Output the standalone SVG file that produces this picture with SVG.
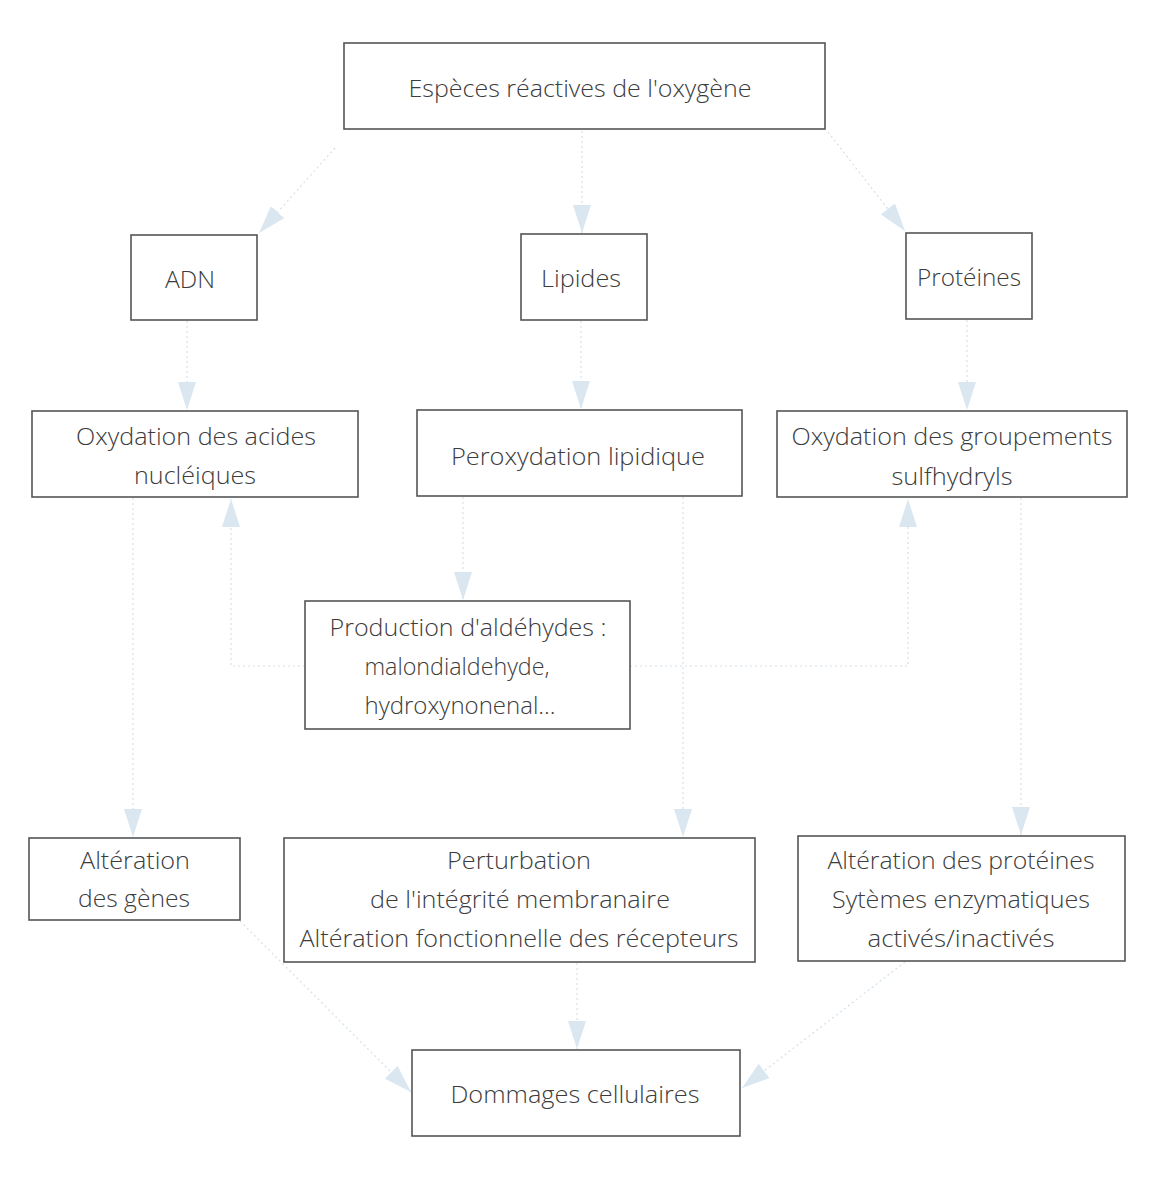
<svg xmlns="http://www.w3.org/2000/svg" width="1152" height="1178" viewBox="0 0 1152 1178">
<style>
.box{fill:#ffffff;stroke:#555555;stroke-width:1.6}
.t{font-family:"Open Sans","Noto Sans","Liberation Sans",sans-serif;font-weight:300;font-size:24px;fill:#3c3c3c;text-anchor:middle}
.c{fill:none;stroke:#d2e1ec;stroke-width:1.2;stroke-dasharray:2 3}
</style>
<defs>
<marker id="arr" markerUnits="userSpaceOnUse" markerWidth="28" markerHeight="18" viewBox="0 0 28 18" refX="28" refY="9" orient="auto">
<path d="M0,0 L28,9 L0,18 Z" fill="#dbe7f0"/>
</marker>
</defs>
<rect width="1152" height="1178" fill="#ffffff"/>
<g id="connectors">
<path class="c" marker-end="url(#arr)" d="M335,148 L259,233"/>
<path class="c" marker-end="url(#arr)" d="M582,131 L582,233"/>
<path class="c" marker-end="url(#arr)" d="M828,132 L905,231"/>
<path class="c" marker-end="url(#arr)" d="M187,321 L187,410"/>
<path class="c" marker-end="url(#arr)" d="M581,321 L581,409"/>
<path class="c" marker-end="url(#arr)" d="M967,320 L967,410"/>
<path class="c" marker-end="url(#arr)" d="M463,497 L463,600"/>
<path class="c" marker-end="url(#arr)" d="M305,666 L231,666 L231,499"/>
<path class="c" marker-end="url(#arr)" d="M630,666 L908,666 L908,499"/>
<path class="c" marker-end="url(#arr)" d="M133,498 L133,837"/>
<path class="c" marker-end="url(#arr)" d="M683,497 L683,837"/>
<path class="c" marker-end="url(#arr)" d="M1021,498 L1021,835"/>
<path class="c" marker-end="url(#arr)" d="M577,963 L577,1049"/>
<path class="c" marker-end="url(#arr)" d="M240,921 L411,1092"/>
<path class="c" marker-end="url(#arr)" d="M905,962 L742,1088"/>
</g>
<g id="n-ros"><rect class="box" x="344" y="43" width="481" height="86"/><text class="t" x="580" y="97" textLength="343" lengthAdjust="spacingAndGlyphs">Espèces réactives de l'oxygène</text></g>
<g id="n-adn"><rect class="box" x="131" y="235" width="126" height="85"/><text class="t" x="190" y="288" textLength="50" lengthAdjust="spacingAndGlyphs">ADN</text></g>
<g id="n-lipides"><rect class="box" x="521" y="234" width="126" height="86"/><text class="t" x="581" y="287" textLength="80" lengthAdjust="spacingAndGlyphs">Lipides</text></g>
<g id="n-proteines"><rect class="box" x="906" y="233" width="126" height="86"/><text class="t" x="969" y="286" textLength="104" lengthAdjust="spacingAndGlyphs">Protéines</text></g>
<g id="n-oxacides"><rect class="box" x="32" y="411" width="326" height="86"/><text class="t" x="196" y="445" textLength="240" lengthAdjust="spacingAndGlyphs">Oxydation des acides</text><text class="t" x="195" y="484" textLength="122" lengthAdjust="spacingAndGlyphs">nucléiques</text></g>
<g id="n-perox"><rect class="box" x="417" y="410" width="325" height="86"/><text class="t" x="578" y="465" textLength="254" lengthAdjust="spacingAndGlyphs">Peroxydation lipidique</text></g>
<g id="n-oxsh"><rect class="box" x="777" y="411" width="350" height="86"/><text class="t" x="952" y="445" textLength="321" lengthAdjust="spacingAndGlyphs">Oxydation des groupements</text><text class="t" x="952" y="485" textLength="121" lengthAdjust="spacingAndGlyphs">sulfhydryls</text></g>
<g id="n-ald"><rect class="box" x="305" y="601" width="325" height="128"/><text class="t" x="468" y="636" textLength="277" lengthAdjust="spacingAndGlyphs">Production d'aldéhydes :</text><text class="t" x="457" y="675" textLength="185" lengthAdjust="spacingAndGlyphs">malondialdehyde,</text><text class="t" x="460" y="714" textLength="191" lengthAdjust="spacingAndGlyphs">hydroxynonenal...</text></g>
<g id="n-genes"><rect class="box" x="29" y="838" width="211" height="82"/><text class="t" x="135" y="869" textLength="110" lengthAdjust="spacingAndGlyphs">Altération</text><text class="t" x="134" y="907" textLength="112" lengthAdjust="spacingAndGlyphs">des gènes</text></g>
<g id="n-membrane"><rect class="box" x="284" y="838" width="471" height="124"/><text class="t" x="519" y="869" textLength="144" lengthAdjust="spacingAndGlyphs">Perturbation</text><text class="t" x="520" y="908" textLength="300" lengthAdjust="spacingAndGlyphs">de l'intégrité membranaire</text><text class="t" x="519" y="947" textLength="439" lengthAdjust="spacingAndGlyphs">Altération fonctionnelle des récepteurs</text></g>
<g id="n-altprot"><rect class="box" x="798" y="836" width="327" height="125"/><text class="t" x="961" y="869" textLength="267" lengthAdjust="spacingAndGlyphs">Altération des protéines</text><text class="t" x="961" y="908" textLength="258" lengthAdjust="spacingAndGlyphs">Sytèmes enzymatiques</text><text class="t" x="961" y="947" textLength="187" lengthAdjust="spacingAndGlyphs">activés/inactivés</text></g>
<g id="n-dommages"><rect class="box" x="412" y="1050" width="328" height="86"/><text class="t" x="575" y="1103" textLength="249" lengthAdjust="spacingAndGlyphs">Dommages cellulaires</text></g>
</svg>
